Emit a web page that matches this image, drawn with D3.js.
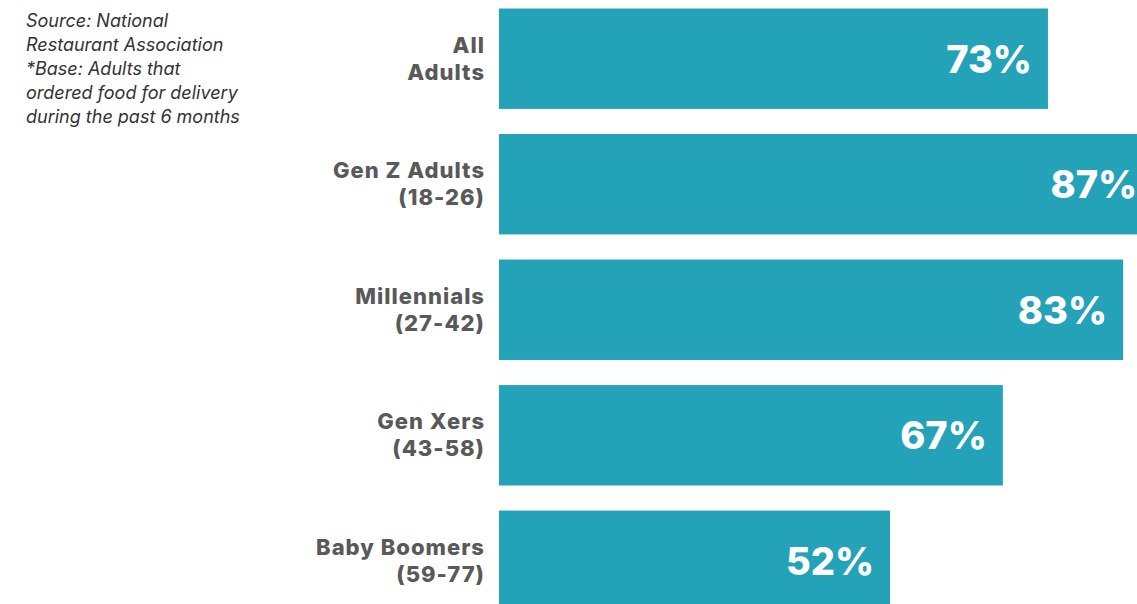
<!DOCTYPE html>
<html>
<head>
<meta charset="utf-8">
<script src="https://cdn.jsdelivr.net/npm/d3@7"></script>
<style>
  body { margin: 0; background: #fff; }
  svg { display: block; }
  .cat { font-family: Inter, "Open Sans", sans-serif; font-weight: 800; font-size: 22px; letter-spacing: 1px; fill: #595959; }
  .val { font-family: Inter, "Open Sans", sans-serif; font-weight: 800; font-size: 38px; fill: #fff; }
  .note { font-family: Inter, "Open Sans", sans-serif; font-style: italic; font-size: 18px; fill: #333; }
</style>
</head>
<body>
<div id="chart"></div>
<script>
// Data
const categories = ["All Adults", "Gen Z Adults (18-26)", "Millennials (27-42)", "Gen Xers (43-58)", "Baby Boomers (59-77)"];
const labelLines = [["All", "Adults"], ["Gen Z Adults", "(18-26)"], ["Millennials", "(27-42)"], ["Gen Xers", "(43-58)"], ["Baby Boomers", "(59-77)"]];
const values = [73, 87, 83, 67, 52];
const noteLines = ["Source: National", "Restaurant Association", "*Base: Adults that", "ordered food for delivery", "during the past 6 months"];

const width = 1137, height = 604;

const svg = d3.select("#chart")
    .append("svg")
    .attr("width", width)
    .attr("height", height);

// Scales
const xScale = d3.scaleLinear()
    .domain([0, 100])
    .range([499, 499 + 752]);

const yScale = d3.scaleBand()
    .domain(categories)
    .range([8.5, 611])
    .paddingInner(0.2)
    .paddingOuter(0);

// Bars
svg.selectAll("rect.bar")
    .data(values)
    .join("rect")
    .attr("class", "bar")
    .attr("x", xScale(0))
    .attr("y", (d, i) => yScale(categories[i]))
    .attr("width", d => xScale(d) - xScale(0))
    .attr("height", yScale.bandwidth())
    .attr("fill", "#24a2b8");

// Value labels inside bars
svg.selectAll("text.val")
    .data(values)
    .join("text")
    .attr("class", "val")
    .attr("x", d => xScale(d) - 16)
    .attr("y", (d, i) => yScale(categories[i]) + yScale.bandwidth() / 2 + 14)
    .attr("text-anchor", "end")
    .text(d => d + "%");

// Category labels (two lines)
const cat = svg.selectAll("text.cat")
    .data(labelLines)
    .join("text")
    .attr("class", "cat")
    .attr("text-anchor", "end")
    .attr("x", 485)
    .attr("y", (d, i) => yScale(categories[i]) + yScale.bandwidth() / 2 - 6);

cat.selectAll("tspan")
    .data(d => d)
    .join("tspan")
    .attr("x", 485)
    .attr("dy", (d, j) => j === 0 ? 0 : 27)
    .text(d => d);

// Source note
const note = svg.append("text")
    .attr("class", "note")
    .attr("x", 26)
    .attr("y", 27);

note.selectAll("tspan")
    .data(noteLines)
    .join("tspan")
    .attr("x", 26)
    .attr("dy", (d, i) => i === 0 ? 0 : 24)
    .text(d => d);
</script>
</body>
</html>
